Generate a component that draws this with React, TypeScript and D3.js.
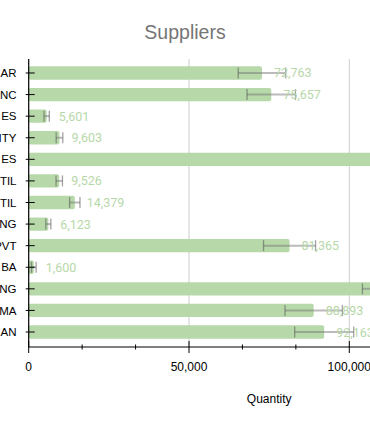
import React, { useEffect, useRef } from 'react';
import * as d3 from 'd3';

// visible fragments of the supplier names (left part is cut off in the original)
const suppliers = ['AR', 'NC', 'ES', 'ITY', 'ES', 'TIL', 'TIL', 'NG', 'PVT', 'BA', 'NG', 'MA', 'AN'];
const quantities = [72763, 75657, 5601, 9603, 125000, 9526, 14379, 6123, 81365, 1600, 115700, 88893, 92163];
const errors = [7400, 7550, 830, 1030, 12500, 1000, 1620, 780, 8110, 720, 11600, 8950, 9200];
const majorTicks = [0, 50000, 100000, 150000];
const minorTicks = [16667, 33333, 66667, 83333, 116667, 133333];

const W = 370;
const H = 427;

export default function App() {
  const svgRef = useRef<SVGSVGElement>(null);

  useEffect(() => {
    const svg = d3.select(svgRef.current);
    svg.selectAll('*').remove();

    const x = d3.scaleLinear().domain([0, 150000]).range([28.7, 509.6]);
    const y = d3.scaleBand<number>()
      .domain(d3.range(suppliers.length))
      .range([62.2, 342.8])
      .paddingInner(0.38)
      .paddingOuter(0.19);
    const axisY = 347;
    const top = 59;
    const bw = y.bandwidth();

    // title
    svg.append('text')
      .attr('x', W / 2)
      .attr('y', 39)
      .attr('text-anchor', 'middle')
      .attr('font-family', 'Liberation Sans, Arial, sans-serif')
      .attr('font-size', 19.5)
      .attr('fill', '#757575')
      .text('Suppliers');

    // gridlines
    svg.append('g')
      .selectAll('line')
      .data(majorTicks.slice(1))
      .enter()
      .append('line')
      .attr('x1', d => x(d))
      .attr('x2', d => x(d))
      .attr('y1', top)
      .attr('y2', axisY)
      .attr('stroke', '#cccccc')
      .attr('stroke-width', 1);

    // bars
    svg.append('g')
      .selectAll('rect')
      .data(quantities)
      .enter()
      .append('rect')
      .attr('x', x(0))
      .attr('y', (d, i) => y(i)!)
      .attr('width', d => x(d) - x(0))
      .attr('height', bw)
      .attr('rx', 2)
      .attr('fill', '#b7d8a9');

    // error bars
    const eb = svg.append('g');
    quantities.forEach((v, i) => {
      const cy = y(i)! + bw / 2;
      const e = errors[i];
      eb.append('line')
        .attr('x1', x(v - e)).attr('x2', x(v + e))
        .attr('y1', cy).attr('y2', cy)
        .attr('stroke', '#777').attr('stroke-opacity', 0.5).attr('stroke-width', 2);
      [v - e, v + e].forEach(t => {
        eb.append('line')
          .attr('x1', x(t)).attr('x2', x(t))
          .attr('y1', cy - 5.5).attr('y2', cy + 5.5)
          .attr('stroke', '#555').attr('stroke-opacity', 0.55).attr('stroke-width', 1.3);
      });
    });

    // value labels
    svg.append('g')
      .selectAll('text')
      .data(quantities)
      .enter()
      .append('text')
      .attr('x', d => x(d) + 12)
      .attr('y', (d, i) => y(i)! + bw / 2)
      .attr('dy', '0.36em')
      .attr('font-family', 'Roboto, sans-serif')
      .attr('font-size', 12.5)
      .attr('fill', '#b7d8a9')
      .text(d => d3.format(',')(d));

    // y axis
    svg.append('line')
      .attr('x1', x(0)).attr('x2', x(0))
      .attr('y1', top).attr('y2', axisY)
      .attr('stroke', '#000').attr('stroke-width', 1.2);
    const ya = svg.append('g');
    suppliers.forEach((s, i) => {
      const cy = y(i)! + bw / 2;
      ya.append('line')
        .attr('x1', x(0) - 3).attr('x2', x(0) + 6)
        .attr('y1', cy).attr('y2', cy)
        .attr('stroke', '#000').attr('stroke-width', 1);
      ya.append('text')
        .attr('x', 16.5)
        .attr('y', cy)
        .attr('dy', '0.36em')
        .attr('text-anchor', 'end')
        .attr('font-family', 'Liberation Sans, Arial, sans-serif')
        .attr('font-size', 11.5)
        .attr('fill', '#000')
        .text(s);
    });

    // x axis
    svg.append('line')
      .attr('x1', x(0)).attr('x2', W)
      .attr('y1', axisY).attr('y2', axisY)
      .attr('stroke', '#000').attr('stroke-width', 1.2);
    const xa = svg.append('g');
    majorTicks.forEach(t => {
      xa.append('line')
        .attr('x1', x(t)).attr('x2', x(t))
        .attr('y1', axisY - 6).attr('y2', axisY + 6)
        .attr('stroke', '#000').attr('stroke-width', 1);
      xa.append('text')
        .attr('x', x(t))
        .attr('y', axisY + 20)
        .attr('dy', '0.36em')
        .attr('text-anchor', 'middle')
        .attr('font-family', 'Liberation Sans, Arial, sans-serif')
        .attr('font-size', 12)
        .attr('fill', '#000')
        .text(d3.format(',')(t));
    });
    minorTicks.forEach(t => {
      xa.append('line')
        .attr('x1', x(t)).attr('x2', x(t))
        .attr('y1', axisY - 2.5).attr('y2', axisY + 2.5)
        .attr('stroke', '#000').attr('stroke-width', 1);
    });

    svg.append('text')
      .attr('x', (x.range()[0] + x.range()[1]) / 2)
      .attr('y', 399)
      .attr('dy', '0.36em')
      .attr('text-anchor', 'middle')
      .attr('font-family', 'Liberation Sans, Arial, sans-serif')
      .attr('font-size', 12)
      .attr('fill', '#000')
      .text('Quantity');
  }, []);

  return (
    <div style={{ position: 'absolute', left: 0, top: 0, width: W, height: H, overflow: 'hidden', background: '#fff' }}>
      <svg ref={svgRef} width={W} height={H} style={{ display: 'block' }} />
    </div>
  );
}
